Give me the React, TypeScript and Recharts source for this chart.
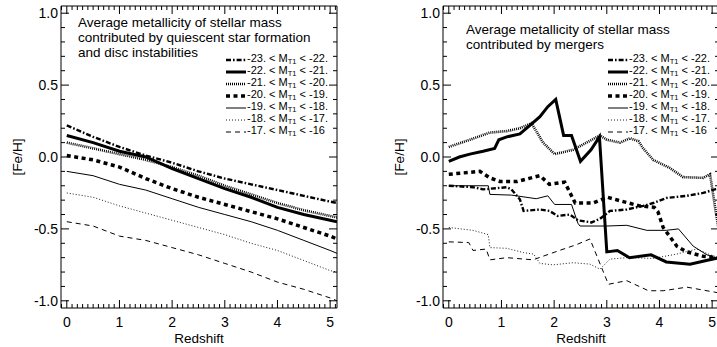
import React from "react";
import { LineChart, Line, XAxis, YAxis, Legend, Label } from "recharts";

const FONT = '"Liberation Sans", Arial, Helvetica, sans-serif';

// axis labels
const REDSHIFT_LABELS = [0, 1, 2, 3, 4, 5];
const FEH_LABELS = [-1.0, -0.5, 0.0, 0.5, 1.0];

// magnitude bins (legend)
const MAG_BRIGHT = ["-23.", "-22.", "-21.", "-20.", "-19.", "-18.", "-17."];
const MAG_FAINT = ["-22.", "-21.", "-20.", "-19.", "-18.", "-17.", "-16"];

// left panel: quiescent star formation + disc instabilities  [z, Fe/H]
const quiescent23 = [[0, 0.22], [0.5, 0.14], [1, 0.07], [1.5, 0.01], [2, -0.04], [2.5, -0.1], [3, -0.15], [3.5, -0.19], [4, -0.23], [4.5, -0.27], [5, -0.31], [5.13, -0.32]];
const quiescent22 = [[0, 0.15], [0.5, 0.1], [1, 0.04], [1.5, 0.0], [2, -0.08], [2.5, -0.15], [3, -0.22], [3.5, -0.28], [4, -0.35], [4.5, -0.4], [5, -0.44], [5.13, -0.45]];
const quiescent21 = [[0, 0.1], [0.5, 0.06], [1, 0.02], [1.5, -0.02], [2, -0.07], [2.5, -0.13], [3, -0.2], [3.5, -0.26], [4, -0.32], [4.5, -0.37], [5, -0.41], [5.13, -0.42]];
const quiescent20 = [[0, 0.01], [0.5, -0.02], [1, -0.07], [1.5, -0.15], [2, -0.22], [2.5, -0.28], [3, -0.33], [3.5, -0.38], [4, -0.43], [4.5, -0.49], [5, -0.55], [5.13, -0.57]];
const quiescent19 = [[0, -0.1], [0.5, -0.13], [1, -0.19], [1.5, -0.23], [2, -0.29], [2.5, -0.35], [3, -0.4], [3.5, -0.45], [4, -0.51], [4.5, -0.58], [5, -0.65], [5.13, -0.67]];
const quiescent18 = [[0, -0.25], [0.5, -0.28], [1, -0.34], [1.5, -0.39], [2, -0.44], [2.5, -0.49], [3, -0.54], [3.5, -0.6], [4, -0.65], [4.5, -0.72], [5, -0.79], [5.13, -0.8]];
const quiescent17 = [[0, -0.45], [0.5, -0.48], [1, -0.55], [1.5, -0.58], [2, -0.63], [2.5, -0.68], [3, -0.74], [3.5, -0.8], [4, -0.87], [4.5, -0.92], [5, -0.98], [5.13, -1.0]];

// right panel: mergers  [z, Fe/H]
const mergers23 = [[0, -0.2], [0.46, -0.21], [0.65, -0.225], [1.1, -0.21], [1.19, -0.225], [1.35, -0.295], [1.42, -0.375], [1.73, -0.365], [1.91, -0.375], [2.07, -0.41], [2.3, -0.4], [2.45, -0.44], [2.71, -0.455], [2.87, -0.43], [3.06, -0.375], [3.38, -0.365], [3.69, -0.34], [3.88, -0.32], [4.13, -0.285], [4.52, -0.27], [4.83, -0.25], [5.05, -0.225], [5.13, -0.22]];
const mergers22 = [[0, -0.03], [0.2, 0.0], [0.4, 0.02], [0.65, 0.04], [0.87, 0.06], [0.95, 0.12], [1.1, 0.14], [1.35, 0.16], [1.54, 0.22], [1.73, 0.28], [1.88, 0.35], [2.03, 0.4], [2.18, 0.15], [2.33, 0.15], [2.5, -0.03], [2.7, 0.05], [2.86, 0.14], [3.0, -0.66], [3.2, -0.65], [3.43, -0.7], [3.84, -0.68], [4.13, -0.73], [4.58, -0.745], [4.89, -0.72], [5.13, -0.7]];
const mergers21 = [[0, 0.07], [0.4, 0.12], [0.78, 0.17], [1.1, 0.18], [1.35, 0.2], [1.57, 0.235], [1.79, 0.1], [2.01, 0.02], [2.36, 0.05], [2.87, 0.15], [3.0, 0.12], [3.25, 0.1], [3.44, 0.13], [3.6, 0.11], [3.69, 0.06], [3.88, -0.02], [4.19, -0.075], [4.45, -0.14], [4.83, -0.145], [4.96, -0.12], [5.06, -0.36], [5.13, -0.52]];
const mergers20 = [[0, -0.12], [0.59, -0.1], [0.78, -0.145], [0.97, -0.17], [1.3, -0.17], [1.73, -0.13], [1.91, -0.19], [2.2, -0.175], [2.4, -0.32], [2.74, -0.32], [3.01, -0.28], [3.31, -0.31], [3.62, -0.34], [3.9, -0.35], [3.97, -0.38], [4.07, -0.49], [4.33, -0.62], [4.52, -0.66], [4.83, -0.69], [5.13, -0.7]];
const mergers19 = [[0, -0.2], [0.75, -0.2], [0.78, -0.26], [1.19, -0.265], [1.66, -0.29], [1.88, -0.27], [2.01, -0.33], [2.33, -0.33], [2.45, -0.46], [2.49, -0.48], [3.0, -0.48], [3.38, -0.475], [3.76, -0.51], [4.13, -0.51], [4.36, -0.5], [4.64, -0.62], [4.9, -0.68], [5.13, -0.71]];
const mergers18 = [[0, -0.49], [0.46, -0.51], [0.75, -0.54], [0.78, -0.63], [1.1, -0.635], [1.42, -0.665], [1.61, -0.675], [1.73, -0.74], [1.98, -0.75], [2.36, -0.735], [2.68, -0.745], [2.87, -0.78], [3.06, -0.71], [3.38, -0.7], [3.88, -0.705], [4.33, -0.675], [4.71, -0.64], [4.96, -0.68], [5.13, -0.7]];
const mergers17 = [[0, -0.59], [0.38, -0.595], [0.46, -0.65], [0.71, -0.64], [0.78, -0.715], [1.1, -0.7], [1.6, -0.715], [1.79, -0.69], [2.1, -0.65], [2.42, -0.61], [2.68, -0.57], [3.03, -0.885], [3.38, -0.86], [3.79, -0.93], [4.07, -0.93], [4.52, -0.905], [5.05, -0.94], [5.13, -0.945]];

const LINE_STYLES = [
  { width: 2.4, dash: "5 2 1.6 2" },
  { width: 3, dash: undefined },
  { width: 2.6, dash: "1 1" },
  { width: 3.5, dash: "4 3.5" },
  { width: 1, dash: undefined },
  { width: 0.9, dash: "1 2" },
  { width: 1, dash: "5 4" },
];

const X_DOMAIN = [-0.11, 5.13];
const Y_DOMAIN = [-1.05, 1.05];
const X_TICKS = Array.from({ length: 53 }, (_, i) => (i - 1) / 10);
const Y_TICKS = Array.from({ length: 21 }, (_, i) => (i - 10) / 10);

const isOn = (v: number, list: number[]) => list.some((t) => Math.abs(t - v) < 1e-6);

const toPoints = (arr: number[][]) => arr.map(([z, feh]) => ({ z, feh }));

function BottomTick({ x, y, payload }: any) {
  const major = isOn(payload.value, REDSHIFT_LABELS);
  return (
    <g>
      <line x1={x} x2={x} y1={y} y2={y - (major ? 8 : 4)} stroke="#000" strokeWidth={1} />
      {major && (
        <text x={x} y={y + 19} textAnchor="middle" fontSize={14} fontFamily={FONT} fill="#000">
          {Math.round(payload.value)}
        </text>
      )}
    </g>
  );
}

function TopTick({ x, y, payload }: any) {
  const major = isOn(payload.value, REDSHIFT_LABELS);
  return <line x1={x} x2={x} y1={y} y2={y + (major ? 8 : 4)} stroke="#000" strokeWidth={1} />;
}

function LeftTick({ x, y, payload }: any) {
  const major = isOn(payload.value, FEH_LABELS);
  return (
    <g>
      <line x1={x} x2={x + (major ? 8 : 4)} y1={y} y2={y} stroke="#000" strokeWidth={1} />
      {major && (
        <text x={x - 3} y={y + 5} textAnchor="end" fontSize={14} fontFamily={FONT} fill="#000">
          {payload.value.toFixed(1)}
        </text>
      )}
    </g>
  );
}

function RightTick({ x, y, payload }: any) {
  const major = isOn(payload.value, FEH_LABELS);
  return <line x1={x} x2={x - (major ? 8 : 4)} y1={y} y2={y} stroke="#000" strokeWidth={1} />;
}

function MagLegend() {
  return (
    <div style={{ fontFamily: FONT, fontSize: 11, color: "#000" }}>
      {MAG_BRIGHT.map((b, i) => (
        <div key={b} style={{ display: "flex", alignItems: "center", height: 12, whiteSpace: "nowrap" }}>
          <svg width={20} height={12} style={{ display: "block" }}>
            <line
              x1={0}
              x2={20}
              y1={7}
              y2={7}
              stroke="#000"
              strokeWidth={LINE_STYLES[i].width}
              strokeDasharray={LINE_STYLES[i].dash}
            />
          </svg>
          <span style={{ marginLeft: 1, lineHeight: "12px" }}>
            {b} &lt; M
            <span style={{ fontSize: 7.5, position: "relative", top: 2 }}>T1</span> &lt; {MAG_FAINT[i]}
          </span>
        </div>
      ))}
    </div>
  );
}

function Panel({ series, title, titleLeft, titleTop }: { series: number[][][]; title: string[]; titleLeft: number; titleTop: number }) {
  return (
    <div style={{ position: "relative", width: 382, height: 347 }}>
      <LineChart width={382} height={347} margin={{ top: 5, right: 44, bottom: 38, left: 60 }}>
        <XAxis
          xAxisId="bottom"
          type="number"
          dataKey="z"
          domain={X_DOMAIN}
          allowDataOverflow
          ticks={X_TICKS}
          interval={0}
          height={1}
          tickSize={0}
          tickMargin={0}
          tickLine={false}
          axisLine={{ stroke: "#000", strokeWidth: 1 }}
          tick={<BottomTick />}
        >
          <Label value="Redshift" position="bottom" offset={24} fontSize={13.5} fontFamily={FONT} fill="#000" />
        </XAxis>
        <XAxis
          xAxisId="top"
          orientation="top"
          type="number"
          dataKey="z"
          domain={X_DOMAIN}
          allowDataOverflow
          ticks={X_TICKS}
          interval={0}
          height={1}
          tickSize={0}
          tickMargin={0}
          tickLine={false}
          axisLine={{ stroke: "#000", strokeWidth: 1 }}
          tick={<TopTick />}
        />
        <YAxis
          yAxisId="left"
          type="number"
          domain={Y_DOMAIN}
          allowDataOverflow
          ticks={Y_TICKS}
          interval={0}
          width={1}
          tickSize={0}
          tickMargin={0}
          tickLine={false}
          axisLine={{ stroke: "#000", strokeWidth: 1 }}
          tick={<LeftTick />}
        >
          <Label
            content={({ viewBox }: any) => (
              <text
                transform={`translate(${viewBox.x - 43},${viewBox.y + viewBox.height / 2}) rotate(-90)`}
                textAnchor="middle"
                dy="0.35em"
                fontSize={13.5}
                fontFamily={FONT}
                fill="#000"
              >
                [Fe/H]
              </text>
            )}
          />
        </YAxis>
        <YAxis
          yAxisId="right"
          orientation="right"
          type="number"
          domain={Y_DOMAIN}
          allowDataOverflow
          ticks={Y_TICKS}
          interval={0}
          width={1}
          tickSize={0}
          tickMargin={0}
          tickLine={false}
          axisLine={{ stroke: "#000", strokeWidth: 1 }}
          tick={<RightTick />}
        />
        <Legend
          layout="vertical"
          verticalAlign="middle"
          align="center"
          wrapperStyle={{ position: "absolute", left: 226, top: 53, width: 130 }}
          content={<MagLegend />}
        />
        {series.map((s, i) => (
          <Line
            key={MAG_BRIGHT[i]}
            name={`${MAG_BRIGHT[i]} < MT1 < ${MAG_FAINT[i]}`}
            xAxisId="bottom"
            yAxisId="left"
            data={toPoints(s)}
            dataKey="feh"
            type="linear"
            stroke="#000"
            strokeWidth={LINE_STYLES[i].width}
            strokeDasharray={LINE_STYLES[i].dash}
            dot={false}
            activeDot={false}
            isAnimationActive={false}
          />
        ))}
      </LineChart>
      <div
        style={{
          position: "absolute",
          left: titleLeft,
          top: titleTop,
          fontFamily: FONT,
          fontSize: 13.5,
          lineHeight: "15px",
          color: "#000",
          whiteSpace: "nowrap",
        }}
      >
        {title.map((t) => (
          <div key={t}>{t}</div>
        ))}
      </div>
    </div>
  );
}

export default function App() {
  return (
    <div
      style={{
        position: "absolute",
        left: 0,
        top: 0,
        width: 717,
        height: 347,
        overflow: "hidden",
        background: "#fff",
      }}
    >
      <div style={{ position: "absolute", left: 0, top: 0 }}>
        <Panel
          series={[quiescent23, quiescent22, quiescent21, quiescent20, quiescent19, quiescent18, quiescent17]}
          title={["Average metallicity of stellar mass", "contributed by quiescent star formation", "and disc instabilities"]}
          titleLeft={78}
          titleTop={15}
        />
      </div>
      <div style={{ position: "absolute", left: 382, top: 0 }}>
        <Panel
          series={[mergers23, mergers22, mergers21, mergers20, mergers19, mergers18, mergers17]}
          title={["Average metallicity of stellar mass", "contributed by mergers"]}
          titleLeft={84}
          titleTop={22}
        />
      </div>
    </div>
  );
}
